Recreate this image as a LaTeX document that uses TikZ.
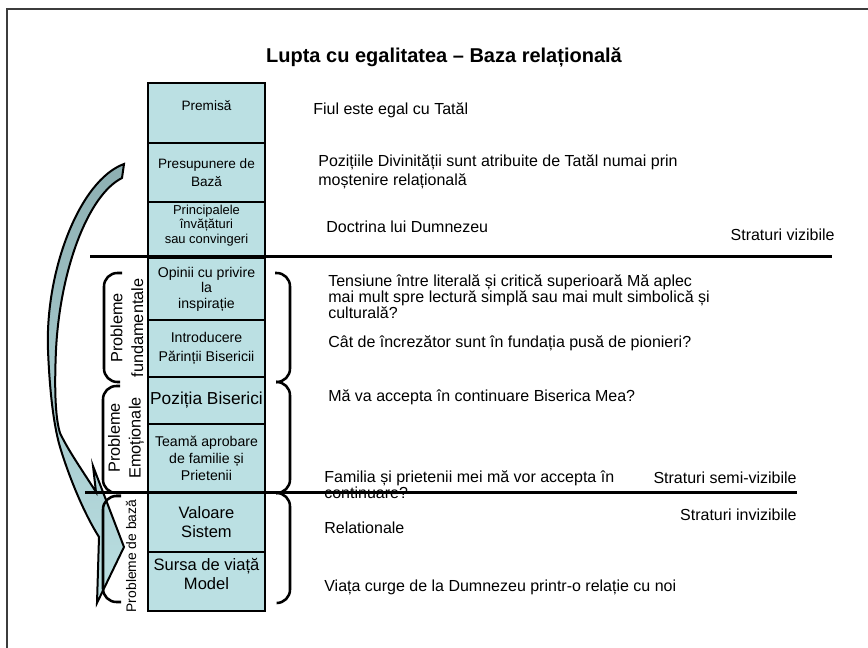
\documentclass[tikz,border=0pt]{standalone}
\usepackage{fontspec}
\setmainfont{Liberation Sans}
\setsansfont{Liberation Sans}
\usepackage{tikz}
\usetikzlibrary{positioning}
\definecolor{ink}{HTML}{000000}
\definecolor{frameink}{HTML}{3C3C3C}
\definecolor{layer}{HTML}{BBE0E3}
\definecolor{arrowtop}{HTML}{8DAFB2}
\tikzset{
  every picture/.style={line width=0.5pt},
  layerbox/.style={draw=ink,fill=layer,line width=1.5pt,minimum width=87.75pt,align=center,inner sep=1pt,font=\fontsize{10.2}{13.5}\selectfont},
  txt/.style={anchor=west,align=left,inner sep=0pt,font=\fontsize{12}{14.25}\selectfont},
  strat/.style={anchor=east,inner sep=0pt,font=\fontsize{12}{14}\selectfont},
  layerline/.style={draw=ink,line width=2.25pt},
  brace/.style={draw=ink,line width=1.9pt,rounded corners=10pt},
  grp/.style={rotate=90,align=center,inner sep=0pt,font=\fontsize{12.2}{15.5}\selectfont},
}
\begin{document}
\begin{tikzpicture}[x=0.75pt,y=-0.75pt]
  \useasboundingbox (0,0) rectangle (868,648);
  % frame
  \draw[frameink,line width=1.2pt] (7,648) -- (7,9) -- (868,9);
  \node[font=\fontsize{15}{18}\selectfont\bfseries] (title) at (444,57) {Lupta cu egalitatea – Baza relațională};
  % curved arrow
  \path[draw=ink,line width=1.5pt,top color=arrowtop,bottom color=layer]
    (124,164) .. controls (80,180) and (45,270) .. (48,350)
    .. controls (50,400) and (55,430) .. (60,447)
    .. controls (70,480) and (85,515) .. (99,537)
    -- (97,603) -- (124,547) -- (93,466) -- (96,492)
    .. controls (82,470) and (68,450) .. (60,433)
    .. controls (56,420) and (54,395) .. (56,350)
    .. controls (60,270) and (88,195) .. (122,178) -- cycle;
  % column of layers
  \node[layerbox,minimum height=45pt,text depth=12pt] (prem) at (206.5,113) {Premisă};
  \node[layerbox,minimum height=44.25pt] (pres) at (206.5,172.5) {Presupunere de\\Bază};
  \node[layerbox,minimum height=42pt,font=\fontsize{9.7}{11}\selectfont,text depth=9pt] (inv) at (206.5,230) {Principalele\\învățături\\sau convingeri};
  \node[layerbox,minimum height=46.5pt,font=\fontsize{10.6}{11.6}\selectfont] (opin) at (206.5,289) {Opinii cu privire\\la\\inspirație};
  \node[layerbox,minimum height=42.75pt,font=\fontsize{10.6}{14}\selectfont] (intro) at (206.5,348.5) {Introducere\\Părinții Bisericii};
  \node[layerbox,minimum height=35.25pt,font=\fontsize{13}{15}\selectfont] (poz) at (206.5,400.5) {Poziția Biserici};
  \node[layerbox,minimum height=51.75pt,font=\fontsize{10.6}{13}\selectfont] (team) at (206.5,458.5) {Teamă aprobare\\de familie și\\Prietenii};
  \node[layerbox,minimum height=44.25pt,font=\fontsize{12.4}{14.25}\selectfont] (val) at (206.5,522.5) {Valoare\\Sistem};
  \node[layerbox,minimum height=44.25pt,font=\fontsize{12.4}{14.25}\selectfont,text depth=12pt] (surs) at (206.5,581.5) {Sursa de viață\\Model};
  % separators
  \draw[layerline] (90,257) -- (832,257);
  \draw[layerline] (85,493) -- (797,493);
  % braces
  \draw[brace] (275,273) -- (290,273) -- (290,382) -- (276,382);
  \draw[brace] (276,382) -- (290,382) -- (290,493) -- (276,493);
  \draw[brace] (276,493) -- (290,493) -- (290,603) -- (277,603);
  \draw[brace] (122,273) -- (104,273) -- (104,382) -- (120,382);
  \draw[brace] (120,386) -- (103,386) -- (103,493) -- (121,493);
  \draw[brace] (121,496) -- (103,496) -- (103,602) -- (121,602);
  % groups
  \node[grp] (gfund) at (127,328) {Probleme\\fundamentale};
  \node[grp] (gemo) at (126,438) {Probleme\\Emoționale};
  \node[grp,font=\fontsize{10.4}{12}\selectfont] (gbaza) at (131,556) {Probleme de bază};
  % descriptions
  \node[txt] (d1) at (313,110) {Fiul este egal cu Tatăl};
  \node[txt] (d2) at (318,172) {Pozițiile Divinității sunt atribuite de Tatăl numai prin\\moștenire relațională};
  \node[txt] (d3) at (326,227) {Doctrina lui Dumnezeu};
  \node[txt,font=\fontsize{12}{12}\selectfont] (d4) at (328,297) {Tensiune între literală și critică superioară Mă aplec\\mai mult spre lectură simplă sau mai mult simbolică și\\culturală?};
  \node[txt] (d5) at (328,343) {Cât de încrezător sunt în fundația pusă de pionieri?};
  \node[txt] (d6) at (328,397) {Mă va accepta în continuare Biserica Mea?};
  \node[txt,font=\fontsize{12}{11}\selectfont] (d7) at (324,485) {Familia și prietenii mei mă vor accepta în\\continuare?};
  \node[txt] (d8) at (324,528) {Relationale};
  \node[txt] (d9) at (324,587) {Viața curge de la Dumnezeu printr-o relație cu noi};
  % strata
  \node[strat] (svis) at (835,235) {Straturi vizibile};
  \node[strat] (ssemi) at (797,478) {Straturi semi-vizibile};
  \node[strat] (sinv) at (797,515) {Straturi invizibile};
\end{tikzpicture}
\end{document}
